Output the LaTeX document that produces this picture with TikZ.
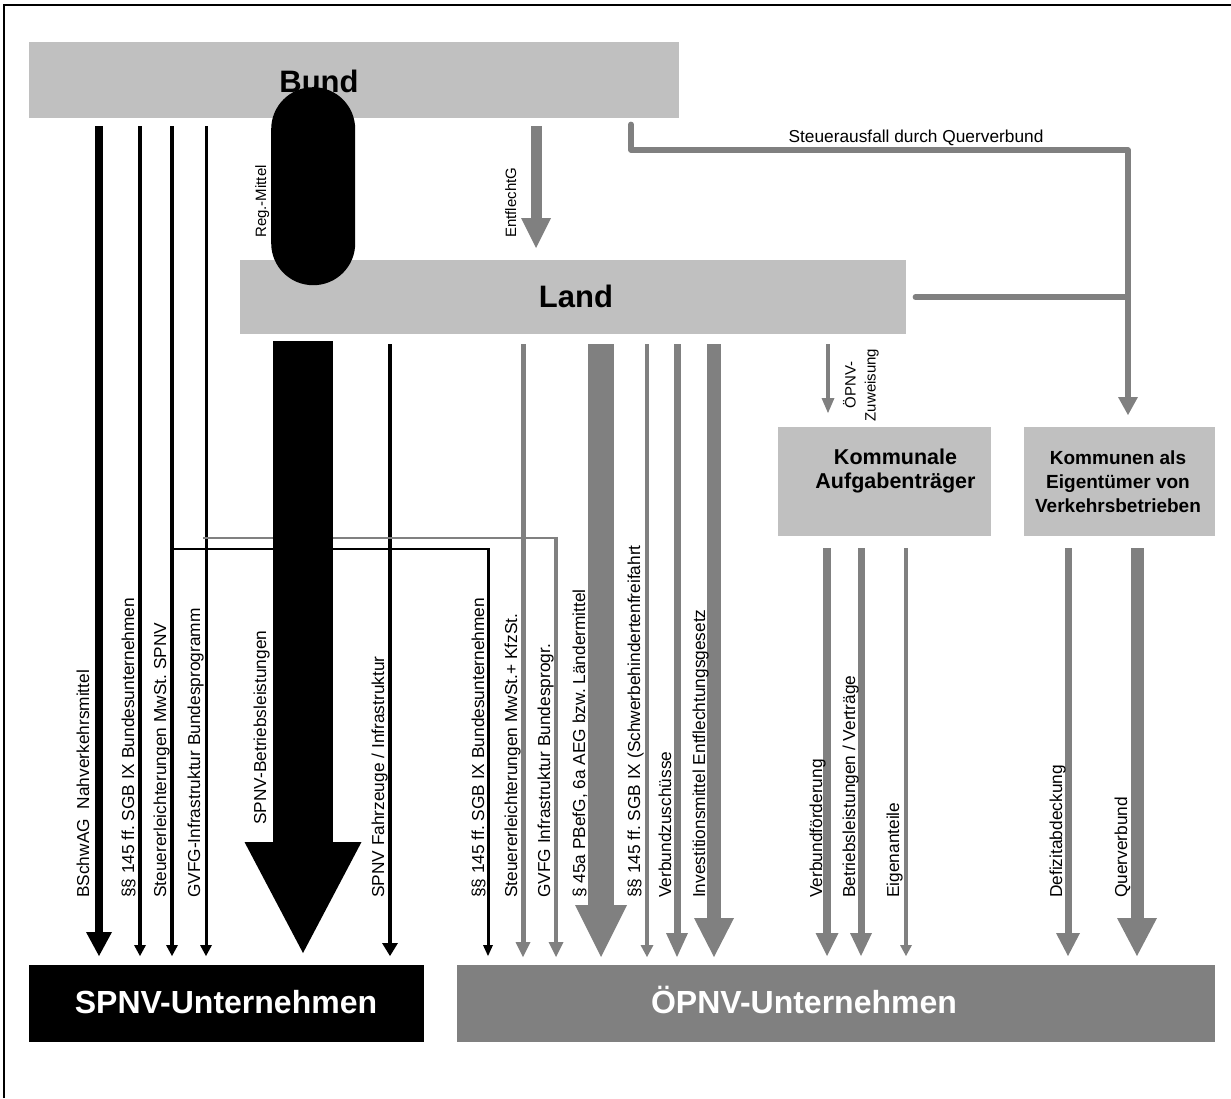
\documentclass[tikz,border=0pt]{standalone}
\usepackage{fontspec}
\setmainfont{Liberation Sans}
\usetikzlibrary{arrows.meta}
\definecolor{lgray}{HTML}{C0C0C0}
\definecolor{mgray}{HTML}{808080}
\frenchspacing
\begin{document}
\begin{tikzpicture}[x=1pt,y=-1pt,
  lbox/.style={fill=lgray, draw=none, inner sep=0pt, anchor=north west},
  lab/.style={rotate=90, anchor=base west, inner sep=0pt, font=\fontsize{17.3}{20}\selectfont},
  slab/.style={rotate=90, inner sep=0pt, font=\fontsize{15}{20}\selectfont},
  blk/.style={draw=black},
  gry/.style={draw=mgray},
  hd/.style 2 args={-{Triangle[width=#1pt,length=#2pt,line width=0pt]}},
  big/.style={font=\fontsize{31}{36}\selectfont\bfseries, inner sep=0pt, anchor=base}
]
\useasboundingbox (0,0) rectangle (1231,1098);
\fill[white] (0,0) rectangle (1231,1098);
\draw[line width=2pt] (4,1098) -- (4,5) -- (1231,5);

% boxes
\node[lbox, minimum width=650pt, minimum height=76pt] (bund) at (29,42) {};
\node[lbox, minimum width=666pt, minimum height=74pt] (land) at (240,260) {};
\node[lbox, minimum width=213pt, minimum height=109pt] (kom) at (778,427) {};
\node[lbox, minimum width=191pt, minimum height=109pt] (eig) at (1024,427) {};
\node[lbox, fill=black, minimum width=395pt, minimum height=77pt] (spnv) at (29,965) {};
\node[lbox, fill=mgray, minimum width=758pt, minimum height=77pt] (oepnv) at (457,965) {};

\node[big] (bundt) at (319,92) {Bund};
\node[big] (landt) at (576,307) {Land};
\node[big, text=white, font=\fontsize{32}{38}\selectfont\bfseries] (spnvt) at (226,1013) {SPNV-Unternehmen};
\node[big, text=white, font=\fontsize{32}{38}\selectfont\bfseries] (oepnvt) at (804,1013) {ÖPNV-Unternehmen};
\node[align=center, inner sep=0pt, font=\fontsize{21.5}{24}\selectfont\bfseries] (komt) at (895.5,471.4) {Kommunale\\Aufgabenträger};
\node[align=center, inner sep=0pt, font=\fontsize{19}{24}\selectfont\bfseries] (eigt) at (1118,482) {Kommunen als\\Eigentümer von\\Verkehrsbetrieben};

% column coordinates
\coordinate (c1) at (99,0);
\coordinate (c2) at (140,0);
\coordinate (c3) at (172,0);
\coordinate (c4) at (206,0);
\coordinate (c5) at (303,0);
\coordinate (c6) at (390,0);
\coordinate (c9) at (523,0);
\coordinate (c10) at (601,0);
\coordinate (c11) at (647,0);
\coordinate (c12) at (677,0);
\coordinate (c13) at (714,0);
\coordinate (c14) at (828,0);
\coordinate (c15) at (827,0);
\coordinate (c16) at (861,0);
\coordinate (c17) at (906,0);
\coordinate (c18) at (1068,0);
\coordinate (c19) at (1137,0);
\coordinate (ce) at (536,0);
\coordinate (cs) at (631,0);
\coordinate (k1) at (171,549);
\coordinate (k2) at (488,549);
\coordinate (k3) at (203,538);
\coordinate (k4) at (556,538);
\coordinate (s2) at (631,150);
\coordinate (s3) at (1128,150);

% Bund -> SPNV (black)
\draw[blk, line width=8pt, hd={26}{24}, shorten <=8pt, shorten >=9pt] (bund.south -| c1) -- (spnv.north -| c1);
\draw[blk, line width=3.5pt, hd={12}{11}, shorten <=8pt, shorten >=9pt] (bund.south -| c2) -- (spnv.north -| c2);
\draw[blk, line width=3.5pt, hd={12}{11}, shorten <=8pt, shorten >=9pt] (bund.south -| c3) -- (spnv.north -| c3);
\draw[blk, line width=3pt, hd={12}{11}, shorten <=8pt, shorten >=9pt] (bund.south -| c4) -- (spnv.north -| c4);

% Land -> SPNV
\draw[blk, line width=4pt, hd={16}{13}, shorten <=10pt, shorten >=9pt] (land.south -| c6) -- (spnv.north -| c6);

% cross connectors to OEPNV
\draw[blk, line width=2pt] (k1) -- ([xshift=1.5pt]k2);
\draw[blk, line width=3pt, hd={10}{11}, shorten >=9pt] ([yshift=1pt]k2) -- (oepnv.north -| k2);
\draw[gry, line width=2.5pt] (k3) -- ([xshift=2pt]k4);
\draw[gry, line width=4.5pt, hd={15}{15}, shorten >=8pt] ([yshift=1.2pt]k4) -- (oepnv.north -| k4);

\draw[blk, line width=60pt, hd={117}{111}, shorten <=7pt, shorten >=12pt] (land.south -| c5) -- (spnv.north -| c5);

% Land -> OEPNV (gray)
\draw[gry, line width=5pt, hd={15}{15}, shorten <=10pt, shorten >=8pt] (land.south -| c9) -- (oepnv.north -| c9);
\draw[gry, line width=26pt, hd={52}{52}, shorten <=10pt, shorten >=8pt] (land.south -| c10) -- (oepnv.north -| c10);
\draw[gry, line width=4pt, hd={13}{12}, shorten <=10pt, shorten >=8pt] (land.south -| c11) -- (oepnv.north -| c11);
\draw[gry, line width=7pt, hd={22}{24}, shorten <=10pt, shorten >=8pt] (land.south -| c12) -- (oepnv.north -| c12);
\draw[gry, line width=14pt, hd={40}{39}, shorten <=10pt, shorten >=8pt] (land.south -| c13) -- (oepnv.north -| c13);

% Land -> Kommunale
\draw[gry, line width=4pt, hd={13}{15}, shorten <=10pt, shorten >=14pt] (land.south -| c14) -- (kom.north -| c14);

% Kommunale / Kommunen -> OEPNV
\draw[gry, line width=8pt, hd={23}{23}, shorten <=12pt, shorten >=9pt] (kom.south -| c15) -- (oepnv.north -| c15);
\draw[gry, line width=7pt, hd={22}{23}, shorten <=12pt, shorten >=9pt] (kom.south -| c16) -- (oepnv.north -| c16);
\draw[gry, line width=4pt, hd={12}{11}, shorten <=12pt, shorten >=9pt] (kom.south -| c17) -- (oepnv.north -| c17);
\draw[gry, line width=7pt, hd={24}{23}, shorten <=12pt, shorten >=9pt] (eig.south -| c18) -- (oepnv.north -| c18);
\draw[gry, line width=13pt, hd={40}{38}, shorten <=12pt, shorten >=9pt] (eig.south -| c19) -- (oepnv.north -| c19);

% Bund -> Land
\draw[gry, line width=11pt, hd={30}{30}, shorten <=8pt, shorten >=12pt] (bund.south -| ce) -- (land.north -| ce);

% Steuerausfall
\draw[gry, line width=5.5pt, line cap=round, line join=round, hd={20}{18}, shorten <=6pt, shorten >=12pt]
  (bund.south -| cs) -- (s2) -- (s3) -- (eig.north -| s3);
\draw[gry, line width=5.5pt, line cap=round, shorten <=9pt] (land.east) -- (land.east -| s3);
\node[anchor=base, inner sep=0pt, font=\fontsize{17.3}{20}\selectfont] (steut) at (916,142) {Steuerausfall durch Querverbund};

% Reg.-Mittel pill
\node[fill=black, rounded corners=41.9pt, minimum width=84pt, minimum height=198pt, inner sep=0pt, anchor=north west] (reg) at (271,87) {};
\node[slab, anchor=base west] (regt) at (266,238) {Reg.-Mittel};
\node[slab, anchor=base west] (entt) at (516,238) {EntflechtG};
\node[slab, align=center] (zuwt) at (861,385) {ÖPNV-\\Zuweisung};

% labels
\node[lab] (l1) at (89,898) {BSchwAG\ \ Nahverkehrsmittel};
\node[lab] (l2) at (134,898) {§§ 145 ff. SGB IX Bundesunternehmen};
\node[lab] (l3) at (166,898) {Steuererleichterungen MwSt. SPNV};
\node[lab] (l4) at (200,898) {GVFG-Infrastruktur Bundesprogramm};
\node[lab] (l5) at (266,825) {SPNV-Betriebsleistungen};
\node[lab] (l6) at (384,898) {SPNV Fahrzeuge / Infrastruktur};
\node[lab] (l7) at (484,898) {§§ 145 ff. SGB IX Bundesunternehmen};
\node[lab] (l8) at (517,898) {Steuererleichterungen MwSt.+ KfzSt.};
\node[lab] (l9) at (550,898) {GVFG Infrastruktur Bundesprogr.};
\node[lab] (l10) at (585,898) {§ 45a PBefG, 6a AEG bzw. Ländermittel};
\node[lab] (l11) at (640,898) {§§ 145 ff. SGB IX (Schwerbehindertenfreifahrt};
\node[lab] (l12) at (671,898) {Verbundzuschüsse};
\node[lab] (l13) at (705,898) {Investitionsmittel Entflechtungsgesetz};
\node[lab] (l14) at (822,898) {Verbundförderung};
\node[lab] (l15) at (855,898) {Betriebsleistungen / Verträge};
\node[lab] (l16) at (899,898) {Eigenanteile};
\node[lab] (l17) at (1062,898) {Defizitabdeckung};
\node[lab] (l18) at (1127,898) {Querverbund};
\end{tikzpicture}
\end{document}
